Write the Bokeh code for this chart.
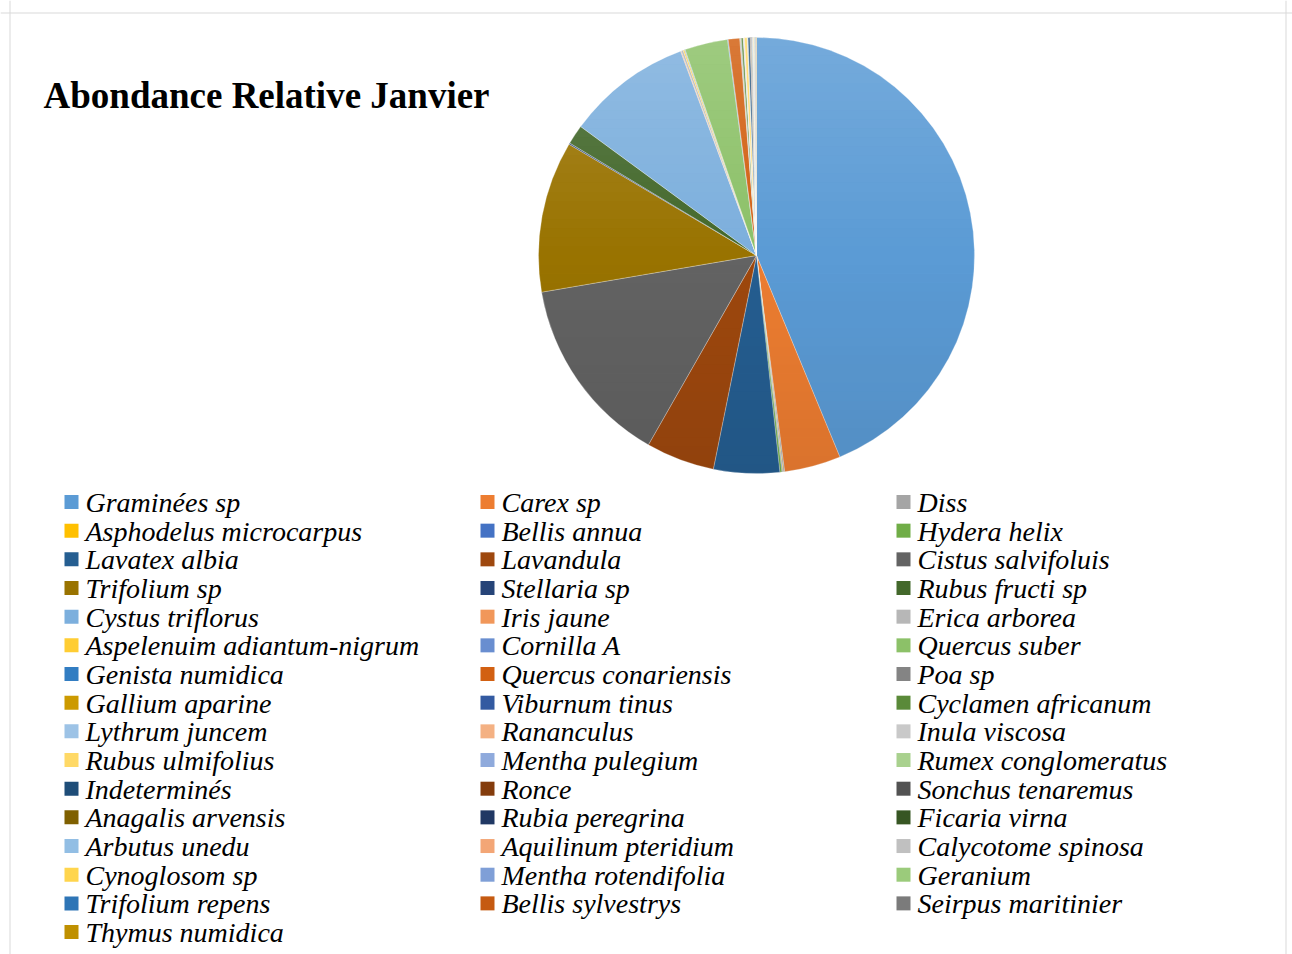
import math
from bokeh.plotting import figure
from bokeh.models import Range1d, Span, ColumnDataSource
from bokeh.core.properties import value
from bokeh.embed import file_html
from bokeh.resources import INLINE

title = "Abondance Relative Janvier"

species = [
    "Graminées sp", "Carex sp", "Diss",
    "Asphodelus microcarpus", "Bellis annua", "Hydera helix",
    "Lavatex albia", "Lavandula", "Cistus salvifoluis",
    "Trifolium sp", "Stellaria sp", "Rubus fructi sp",
    "Cystus triflorus", "Iris jaune", "Erica arborea",
    "Aspelenuim adiantum-nigrum", "Cornilla A", "Quercus suber",
    "Genista numidica", "Quercus conariensis", "Poa sp",
    "Gallium aparine", "Viburnum tinus", "Cyclamen africanum",
    "Lythrum juncem", "Rananculus", "Inula viscosa",
    "Rubus ulmifolius", "Mentha pulegium", "Rumex conglomeratus",
    "Indeterminés", "Ronce", "Sonchus tenaremus",
    "Anagalis arvensis", "Rubia peregrina", "Ficaria virna",
    "Arbutus unedu", "Aquilinum pteridium", "Calycotome spinosa",
    "Cynoglosom sp", "Mentha rotendifolia", "Geranium",
    "Trifolium repens", "Bellis sylvestrys", "Seirpus maritinier",
    "Thymus numidica",
]

abundance = [
    43.9, 4.2, 0.1,
    0.05, 0.05, 0.15,
    4.9, 5.1, 14.1,
    11.25, 0.1, 1.45,
    9.3, 0.05, 0.15,
    0.1, 0.05, 3.2,
    0.05, 0.85, 0.05,
    0.03, 0.03, 0.15,
    0.03, 0.03, 0.03,
    0.2, 0.03, 0.03,
    0.15, 0.03, 0.05,
    0.03, 0.03, 0.03,
    0.03, 0.03, 0.03,
    0.03, 0.03, 0.03,
    0.03, 0.03, 0.03,
    0.03,
]

palette = [
    "#5B9BD5", "#ED7D31", "#A5A5A5", "#FFC000", "#4472C4", "#70AD47",
    "#255E91", "#9E480E", "#636363", "#997300", "#264478", "#43682B",
    "#7CAFDD", "#F1975A", "#B7B7B7", "#FFCD33", "#698ED0", "#8CC168",
    "#327DC2", "#D26012", "#848484", "#CC9A00", "#335AA1", "#5A8A39",
    "#9DC3E6", "#F4B183", "#C9C9C9", "#FFD966", "#8FAADC", "#A9D18E",
    "#1E4D78", "#843C0C", "#525252", "#7F6000", "#203864", "#375623",
    "#92BEE4", "#F3A676", "#C0C0C0", "#FFD54D", "#7F9FD7", "#9BCB7B",
    "#2E75B6", "#C55A11", "#7B7B7B", "#BF9000",
]

W, H = 1292, 954


def X(sx):
    return sx


def Y(sy):
    return H - sy


p = figure(width=W, height=H, output_backend="svg", toolbar_location=None,
           x_range=Range1d(0, W), y_range=Range1d(0, H),
           min_border=0, min_border_left=0, min_border_right=0,
           min_border_top=0, min_border_bottom=0)
p.axis.visible = False
p.grid.visible = False
p.outline_line_color = None
p.background_fill_color = "white"
p.border_fill_color = "white"

# chart-area border (left, top, right)
for loc in [X(9.5), X(1285.5)]:
    p.add_layout(Span(location=loc, dimension="height", line_color="#d9d9d9", line_width=1))
p.add_layout(Span(location=Y(12.5), dimension="width", line_color="#d9d9d9", line_width=1))

# pie
total = sum(abundance)
starts, ends = [], []
c = 0.0
for v in abundance:
    starts.append(math.pi / 2 - 2 * math.pi * c / total)
    c += v
    ends.append(math.pi / 2 - 2 * math.pi * c / total)

cx, cy, r = X(756), Y(255), 218
src = ColumnDataSource(dict(start=starts, end=ends, color=palette, name=species))
p.wedge(x=cx, y=cy, radius=r, start_angle="start", end_angle="end",
        direction="clock", fill_color="color", line_color="white",
        line_width=0.4, line_alpha=0.7, source=src)

# subtle vertical shading of the pie (lighter top, darker bottom)
n = 48
xs_s, ys_s, cols, alphas = [], [], [], []
for k in range(n):
    t0 = -1 + 2 * k / n
    t1 = -1 + 2 * (k + 1) / n
    a0 = math.asin(max(-1, min(1, t0)))
    a1 = math.asin(max(-1, min(1, t1)))
    m = 8
    right = [(cx + r * math.cos(a0 + (a1 - a0) * j / m), cy + r * math.sin(a0 + (a1 - a0) * j / m)) for j in range(m + 1)]
    left = [(cx - r * math.cos(a1 - (a1 - a0) * j / m), cy + r * math.sin(a1 - (a1 - a0) * j / m)) for j in range(m + 1)]
    pts = right + left
    xs_s.append([q[0] for q in pts])
    ys_s.append([q[1] for q in pts])
    tm = (t0 + t1) / 2  # -1 bottom .. +1 top
    if tm >= 0:
        cols.append("white")
        alphas.append(0.16 * tm)
    else:
        cols.append("black")
        alphas.append(0.08 * (-tm))
p.patches(xs=xs_s, ys=ys_s, fill_color=cols, fill_alpha=alphas, line_color=None)

# title
p.text(x=[X(43)], y=[Y(108 - 13)], text=[title], text_font=value("Liberation Serif"),
       text_font_style="bold", text_font_size="37px", text_color="black",
       text_baseline="alphabetic", text_align="left")

# legend
col_x = [64, 480, 896]
row0, dy = 501.5, 28.67
lx, ly, tx, ty = [], [], [], []
for i, name in enumerate(species):
    row, col = divmod(i, 3)
    lx.append(X(col_x[col] + 7))
    ly.append(Y(row0 + row * dy))
    tx.append(X(col_x[col] + 21))
    ty.append(Y(row0 + row * dy + 0.5))

p.rect(x=lx, y=ly, width=14, height=14, fill_color=palette, line_color=None)
p.text(x=tx, y=ty, text=species, text_font=value("Liberation Serif"),
       text_font_style="italic", text_font_size="28px", text_color="black",
       text_baseline="alphabetic", text_align="left")

open("out.html", "w").write(file_html(p, INLINE))
